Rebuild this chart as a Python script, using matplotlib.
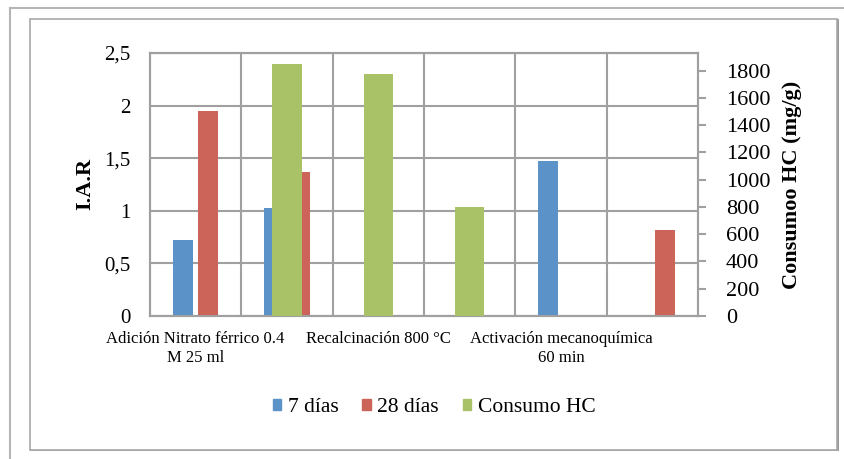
import matplotlib
matplotlib.use("Agg")
import matplotlib.pyplot as plt
from matplotlib.patches import Patch, Rectangle
from matplotlib.lines import Line2D
import numpy as np

plt.rcParams['font.family'] = ['Liberation Serif', 'DejaVu Serif']

categories = ["Adición Nitrato férrico 0.4\nM 25 ml", "",
              "Recalcinación 800 °C", "",
              "Activación mecanoquímica\n60 min", ""]
dias7 = [0.72, 1.03, 0, 0, 1.47, 0]
dias28 = [1.95, 1.37, 0, 0, 0, 0.82]
consumo_hc = [0, 1850, 1775, 800, 0, 0]
left_ticks = [0, 0.5, 1, 1.5, 2, 2.5]
left_tick_labels = ["0", "0,5", "1", "1,5", "2", "2,5"]
right_ticks = [0, 200, 400, 600, 800, 1000, 1200, 1400, 1600, 1800]
series_names = ["7 días", "28 días", "Consumo HC"]

c_blue = "#5B92C7"
c_red = "#CD645A"
c_green = "#AAC267"
grid_c = "#A0A0A0"

fig = plt.figure(figsize=(8.45, 4.59), dpi=100)
W, H = 845, 459

# outer frames
fig.add_artist(Line2D([10 / W, 10 / W], [0, 1 - 8 / H], transform=fig.transFigure,
                      color="#B5B5B5", lw=1.5, zorder=-3))
fig.add_artist(Line2D([10 / W, 1], [1 - 8 / H, 1 - 8 / H], transform=fig.transFigure,
                      color="#B5B5B5", lw=1.5, zorder=-3))
fig.add_artist(Rectangle((31 / W, 1 - 451 / H), 808 / W, 432 / H, transform=fig.transFigure,
                         facecolor="#9A9A9A", edgecolor="none", zorder=-2))
fig.add_artist(Rectangle((30 / W, 1 - 450 / H), 807 / W, 431 / H, transform=fig.transFigure,
                         facecolor="white", edgecolor="#A8A8A8", lw=1.2, zorder=-1))

ax = fig.add_axes([150 / W, 1 - 316 / H, 548 / W, 263 / H])
ax.set_facecolor("none")
x = np.arange(len(categories))
ax.bar(x - 0.14, dias7, width=0.22, color=c_blue, zorder=3)
ax.bar(x + 0.14, dias28, width=0.22, color=c_red, zorder=3)
ax.set_xlim(-0.5, 5.5)
ax.set_ylim(0, 2.5)
ax.set_yticks(left_ticks)
ax.set_yticklabels(left_tick_labels, fontsize=15)
ax.tick_params(axis='y', length=0, pad=14)
ax.set_xticks(x)
ax.set_xticklabels(categories, fontsize=12, linespacing=1.25)
ax.tick_params(axis='x', length=0, pad=11)
ax.set_xticks(np.arange(0.5, 5.5, 1), minor=True)
ax.tick_params(axis='x', which='minor', length=0)
ax.grid(True, axis='y', which='major', color=grid_c, lw=1.5, zorder=0)
ax.grid(True, axis='x', which='minor', color=grid_c, lw=1.5, zorder=0)
ax.set_axisbelow(True)
for s in ax.spines.values():
    s.set_color(grid_c)
    s.set_linewidth(1.5)

ax2 = ax.twinx()
ax2.bar(x, consumo_hc, width=0.32, color=c_green, zorder=3)
ax2.set_ylim(0, 1930)
ax2.set_yticks(right_ticks)
ax2.set_yticklabels([str(t) for t in right_ticks], fontsize=16)
ax2.tick_params(axis='y', length=6, width=1.5, color=grid_c, pad=14)
for s in ax2.spines.values():
    s.set_color(grid_c)
    s.set_linewidth(1.5)

fig.text(85 / W, 1 - 184 / H, "I.A.R", rotation=90, fontsize=16, fontweight='bold',
         ha='center', va='center')
fig.text(792 / W, 1 - 185 / H, "Consumoo HC (mg/g)", rotation=90, fontsize=16,
         fontweight='bold', ha='center', va='center')

handles = [Patch(color=c_blue), Patch(color=c_red), Patch(color=c_green)]
fig.legend(handles, series_names, loc='center', bbox_to_anchor=(434 / W, 1 - 408 / H),
           ncol=3, frameon=False, fontsize=15.5, handlelength=0.4, handleheight=0.4,
           handletextpad=0.3, columnspacing=1.1)

fig.savefig("out.png", dpi=100)
